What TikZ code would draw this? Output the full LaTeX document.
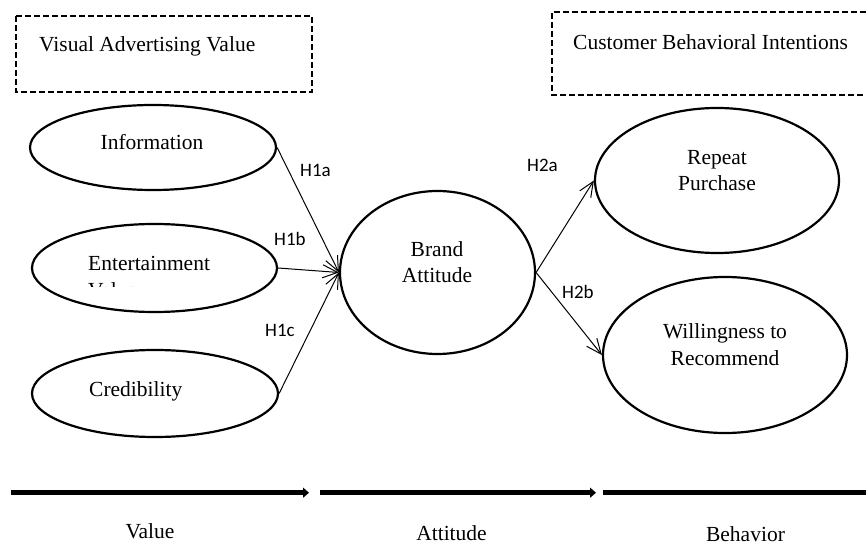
\documentclass[tikz,border=0pt]{standalone}
\usepackage{fontspec}
\setmainfont{Liberation Serif}
\newfontfamily\hfont{Carlito}
\usetikzlibrary{shapes.geometric,arrows.meta}

\begin{document}
\begin{tikzpicture}[x=1bp,y=-1bp,
  construct/.style={ellipse,draw,line width=2.2bp,inner sep=0pt},
  lbl/.style={font=\fontsize{21.5bp}{26.5bp}\selectfont,inner sep=0pt},
  hyp/.style={font=\hfont\fontsize{19bp}{22bp}\selectfont,inner sep=0pt,anchor=base west},
  link/.style={line width=1bp,-{Straight Barb[length=15bp,width=13bp]}},
  stage/.style={line width=5bp,-{Triangle[length=6bp,width=10bp]}},
  groupbox/.style={dash pattern=on 6bp off 3bp,line width=1.8bp}
]
\useasboundingbox (0,0) rectangle (866,544);

% group frames
\draw[groupbox] (16,16) rectangle (312,92);
\draw[groupbox] (866,12) -| (552,95) -- (866,95);
\node[lbl,anchor=base west] (vavT) at (39,52) {Visual Advertising Value};
\node[lbl,anchor=base west] (cbiT) at (573,50) {Customer Behavioral Intentions};

% constructs
\node[construct,minimum width=246bp,minimum height=85bp] (info) at (153,147.5) {};
\node[construct,minimum width=245bp,minimum height=88bp] (ent) at (154.5,268) {};
\node[construct,minimum width=246bp,minimum height=87bp] (cred) at (155,393.5) {};
\node[construct,minimum width=195bp,minimum height=163bp] (ba) at (437.5,272.5) {};
\node[construct,minimum width=244bp,minimum height=145bp] (rp) at (717,180.5) {};
\node[construct,minimum width=244bp,minimum height=156bp] (wr) at (725,355) {};

% construct labels (base anchor sits on the last line)
\node[lbl,anchor=base] (infoT) at (152,150) {Information};
\begin{scope}
  \clip (30,230) rectangle (280,287);
  \node[lbl,anchor=base west,align=left] (entT) at (88,297.2) {Entertainment\\Value};
\end{scope}
\node[lbl,anchor=base west] (credT) at (89,396) {Credibility};
\node[lbl,anchor=base,align=center] (baT) at (437,283) {Brand\\Attitude};
\node[lbl,anchor=base,align=center] (rpT) at (717,191) {Repeat\\Purchase};
\node[lbl,anchor=base,align=center] (wrT) at (725,365) {Willingness to\\Recommend};

% hypothesised paths
\draw[link] (info.east) -- (ba.west);
\draw[link] (ent.east) -- (ba.west);
\draw[link] (cred.east) -- (ba.west);
\draw[link] (ba.east) -- (rp.west);
\draw[link] (ba.east) -- (wr.west);

\node[hyp] (h1a) at (300,176.7) {H1a};
\node[hyp] (h1b) at (274,245.7) {H1b};
\node[hyp] (h1c) at (265,336.7) {H1c};
\node[hyp] (h2a) at (527,171.7) {H2a};
\node[hyp] (h2b) at (562,299) {H2b};

% stage axis
\coordinate (v0) at (11,492.7);
\coordinate (v1) at (309,492.7);
\coordinate (a0) at (320,492.7);
\coordinate (a1) at (596,492.7);
\coordinate (b0) at (603,492.7);
\coordinate (b1) at (866,492.7);
\draw[stage] (v0) -- (v1);
\draw[stage] (a0) -- (a1);
\draw[line width=5bp] (b0) -- (b1);

\node[lbl,anchor=base] (valT) at (150,538) {Value};
\node[lbl,anchor=base] (attT) at (451.5,540) {Attitude};
\node[lbl,anchor=base] (behT) at (745.5,541) {Behavior};
\end{tikzpicture}
\end{document}
